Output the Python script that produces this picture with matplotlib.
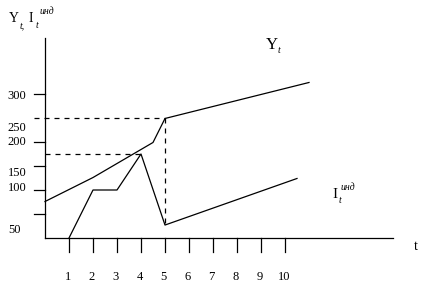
import matplotlib
matplotlib.use("Agg")
import matplotlib.pyplot as plt

# ---- data ----
t_Y = [0, 2, 4.5, 5, 11]
Y_vals = [76, 126, 199, 249, 324]
t_I = [1, 2, 3, 4, 5, 10.5]
I_vals = [0, 100, 100, 175, 27, 124]
x_ticks = [1, 2, 3, 4, 5, 6, 7, 8, 9, 10]
x_tick_labels = ["1", "2", "3", "4", "5", "6", "7", "8", "9", "10"]
y_ticks = [50, 100, 150, 200, 300]
y_tick_labels = ["300", "250", "200", "150", "100", "50"]
y_label_pos = [296, 229, 200, 135, 104, 17]

W, H = 429, 289
fig = plt.figure(figsize=(W / 100, H / 100), dpi=100)
ax = fig.add_axes([0, 0, 1, 1])
ax.set_axis_off()
# pixel x = 45 + 24 t ; pixel y = 238 - 24 v / 50
ax.set_xlim(-45 / 24, (W - 45) / 24)
ax.set_ylim((238 - H) * 50 / 24, 238 * 50 / 24)

serif = "Liberation Serif"
lw = 0.9
k = "black"

# axes
ax.plot([0, 14.5], [0, 0], color=k, lw=lw)
ax.plot([0, 0], [0, 417], color=k, lw=lw)
for t in x_ticks:
    ax.plot([t, t], [0, -29], color=k, lw=lw)
for v in y_ticks:
    ax.plot([-0.46, 0], [v, v], color=k, lw=lw)
for t, lab in zip(x_ticks, x_tick_labels):
    ax.text(t - 0.05, -81, lab, ha="center", va="center", fontsize=9, family=serif)
for v, lab in zip(y_label_pos, y_tick_labels):
    ax.text(-1.55, v, lab, ha="left", va="center", fontsize=9, family=serif)

# series
ax.plot(t_Y, Y_vals, color=k, lw=lw)
ax.plot(t_I, I_vals, color=k, lw=lw)

# dashed guides
ds = (0, (4, 4))
ax.plot([-0.46, 5], [Y_vals[3], Y_vals[3]], color=k, lw=lw, linestyle=ds)
ax.plot([0, 4], [I_vals[3], I_vals[3]], color=k, lw=lw, linestyle=ds)
ax.plot([5, 5], [Y_vals[3], I_vals[4]], color=k, lw=lw, linestyle=ds)

# labels (pixel positions)
def px(x, y):
    return x / W, 1 - y / H

fig.text(*px(9, 22), "Y", fontsize=10, family=serif, ha="left", va="baseline")
fig.text(*px(20, 28), "t,", fontsize=7, family=serif, style="italic", ha="left", va="baseline")
fig.text(*px(29, 22), "I", fontsize=10, family=serif, ha="left", va="baseline")
fig.text(*px(36, 28), "t", fontsize=7, family=serif, style="italic", ha="left", va="baseline")
fig.text(*px(40, 14), "инд", fontsize=7, family=serif, style="italic", ha="left", va="baseline")

fig.text(*px(266, 49), "Y", fontsize=12, family=serif, ha="left", va="baseline")
fig.text(*px(278, 53), "t", fontsize=7, family=serif, style="italic", ha="left", va="baseline")

fig.text(*px(332, 198), "I", fontsize=11, family=serif, ha="left", va="baseline")
fig.text(*px(339, 203), "t", fontsize=7, family=serif, style="italic", ha="left", va="baseline")
fig.text(*px(341, 190), "инд", fontsize=7, family=serif, style="italic", ha="left", va="baseline")

fig.text(*px(416, 247), "t", fontsize=10, family=serif, ha="center", va="center")

fig.savefig("out.png", dpi=100, facecolor="white")
